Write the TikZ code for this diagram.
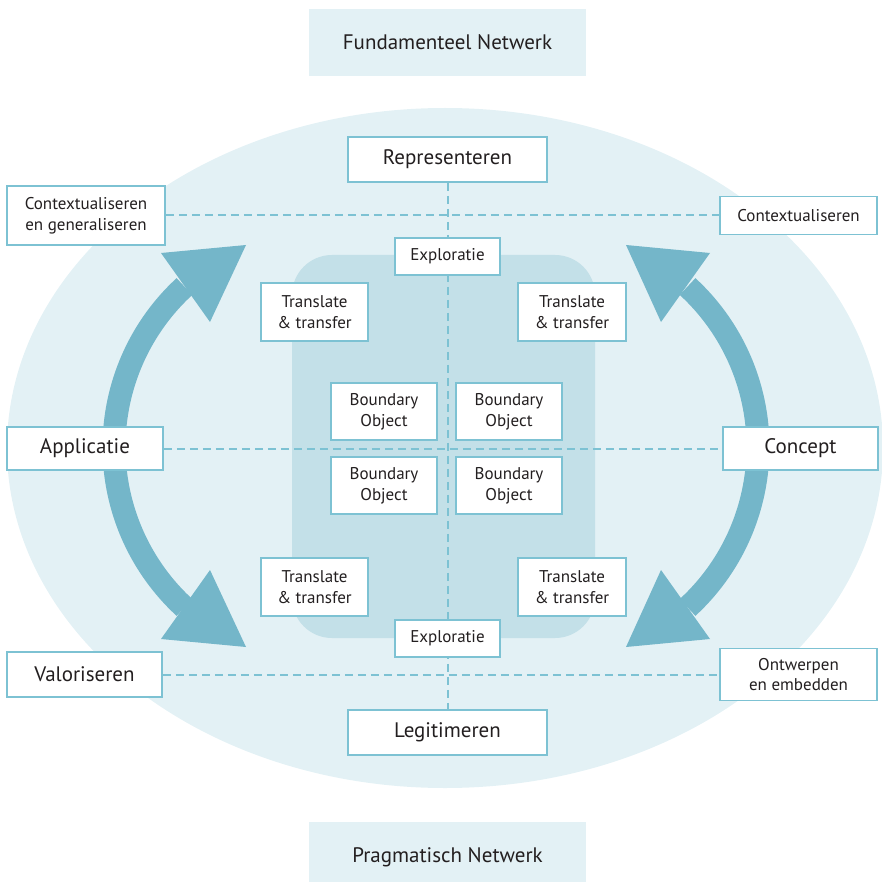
\documentclass[tikz,border=0pt]{standalone}
\usepackage{fontspec}
\setmainfont{PT Sans}
\definecolor{paleblue}{HTML}{E3F1F5}
\definecolor{midblue}{HTML}{C3E0E8}
\definecolor{arrowblue}{HTML}{74B6C9}
\definecolor{edgeblue}{HTML}{7DC2D3}
\definecolor{ink}{HTML}{231F20}
\tikzset{
  box/.style={draw=edgeblue, line width=1.8pt, fill=white, inner sep=0pt,
    align=center, text=ink, font=\fontsize{17}{21}\selectfont},
  bigbox/.style={box, font=\fontsize{21}{24}\selectfont},
  band/.style={fill=paleblue, inner sep=0pt, text=ink, font=\fontsize{21}{24}\selectfont},
  guide/.style={draw=edgeblue, line width=2pt, dash pattern=on 8pt off 5pt},
  bigarrow/.style={fill=arrowblue, draw=none},
  shaft/.style={draw=arrowblue, line width=23pt}
}
\begin{document}
\begin{tikzpicture}[x=1pt, y=-1pt]
\useasboundingbox (0,0) rectangle (881,882);

% background: the shared field and its core
\fill[paleblue] (445,448) ellipse [x radius=438, y radius=340];
\fill[midblue, rounded corners=40pt] (292,255) rectangle (595,638);

\node[band, minimum width=277pt, minimum height=67pt] (fund) at (447.5,42.5) {Fundamenteel Netwerk};
\node[band, minimum width=277pt, minimum height=70pt] (prag) at (447.5,857) {Pragmatisch Netwerk};

% the two curved cycle arrows
\draw[shaft] (332,447) ++(227.4:218) arc[start angle=227.4, end angle=132.6, radius=218];
\fill[bigarrow] (161,253) -- (246,245) -- (210,322) -- cycle;
\fill[bigarrow] (210,570) -- (246,647) -- (161,639) -- cycle;
\draw[shaft] (540,447) ++(-47.4:218) arc[start angle=-47.4, end angle=47.4, radius=218];
\fill[bigarrow] (710,253) -- (626,245) -- (661,322) -- cycle;
\fill[bigarrow] (661,570) -- (626,647) -- (710,639) -- cycle;

% labelled boxes on the outer ring
\node[bigbox, minimum width=199pt, minimum height=45pt] (rep) at (447.5,159.5) {Representeren};
\node[bigbox, minimum width=199pt, minimum height=45pt] (leg) at (447.5,732.5) {Legitimeren};
\node[box, minimum width=158pt, minimum height=59pt] (ctxgen) at (86,215.5) {Contextualiseren\\en generaliseren};
\node[box, minimum width=157pt, minimum height=38pt] (ctx) at (798.5,215.5) {Contextualiseren};
\node[bigbox, minimum width=156pt, minimum height=43pt] (app) at (85,448.5) {Applicatie};
\node[bigbox, minimum width=155pt, minimum height=43pt] (con) at (800.5,448.5) {Concept};
\node[bigbox, minimum width=155pt, minimum height=45pt] (val) at (84.5,674.5) {Valoriseren};
\node[box, minimum width=157pt, minimum height=52pt] (ont) at (798.5,674.5) {Ontwerpen\\[-1pt]en embedden};

% dashed axes
\draw[guide] (rep.south) -- (leg.north);
\draw[guide] (ctxgen.east) -- (ctx.west);
\draw[guide] (app.east) -- (con.west);
\draw[guide] (val.east) -- (ont.west);

% inner field
\node[box, minimum width=105pt, minimum height=37pt] (expT) at (447.5,256.5) {Exploratie};
\node[box, minimum width=105pt, minimum height=37pt] (expB) at (447.5,638.5) {Exploratie};
\node[box, minimum width=107pt, minimum height=58pt] (trTL) at (314.5,312) {Translate\\\& transfer};
\node[box, minimum width=108pt, minimum height=58pt] (trTR) at (572,312) {Translate\\\& transfer};
\node[box, minimum width=107pt, minimum height=58pt] (trBL) at (314.5,587) {Translate\\\& transfer};
\node[box, minimum width=108pt, minimum height=58pt] (trBR) at (572,587) {Translate\\\& transfer};
\node[box, minimum width=106pt, minimum height=57pt] (boTL) at (384,411.5) {Boundary\\Object};
\node[box, minimum width=106pt, minimum height=57pt] (boTR) at (509,411.5) {Boundary\\Object};
\node[box, minimum width=106pt, minimum height=57pt] (boBL) at (384,485.5) {Boundary\\Object};
\node[box, minimum width=106pt, minimum height=57pt] (boBR) at (509,485.5) {Boundary\\Object};
\end{tikzpicture}
\end{document}
